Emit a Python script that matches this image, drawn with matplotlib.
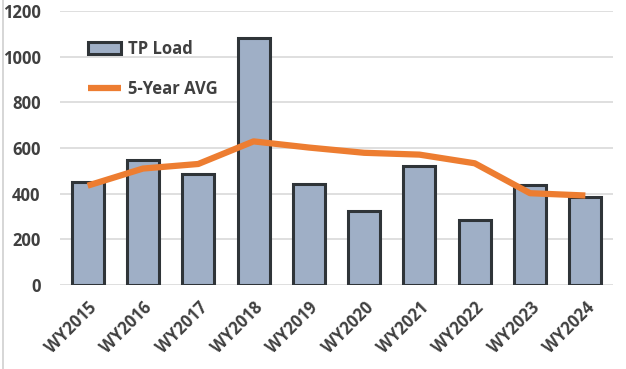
import matplotlib
matplotlib.use('Agg')
import matplotlib.pyplot as plt
from matplotlib.lines import Line2D

# data
water_years = ['WY2015', 'WY2016', 'WY2017', 'WY2018', 'WY2019',
               'WY2020', 'WY2021', 'WY2022', 'WY2023', 'WY2024']
tp_load = [449, 546, 486, 1082, 444, 323, 520, 283, 437, 385]
five_year_avg = [435, 510, 530, 629, 602, 579, 571, 533, 402, 392]
y_ticks = [0, 200, 400, 600, 800, 1000, 1200]

text_color = '#404040'
plt.rcParams['font.family'] = ['Open Sans', 'DejaVu Sans']

fig = plt.figure(figsize=(6.26, 3.69), dpi=100)
ax = fig.add_axes([60 / 626, 1 - 285 / 369, 553 / 626, 274 / 369])

positions = range(len(water_years))
bars = ax.bar(positions, tp_load, width=0.58, color='#9fafc6', edgecolor='#2f3438',
              linewidth=2.2, label='TP Load', zorder=2)
line, = ax.plot(positions, five_year_avg, color='#ed7d31', linewidth=4.5,
                solid_capstyle='butt', label='5-Year AVG', zorder=3)

ax.set_xlim(-0.5, len(water_years) - 0.5)
ax.set_ylim(0, 1200)
ax.set_yticks(y_ticks)
ax.set_yticklabels([str(v) for v in y_ticks], fontsize=12,
                   fontweight='bold', color=text_color)
ax.set_xticks(list(positions))
ax.set_xticklabels(water_years, rotation=45, ha='right', rotation_mode='anchor',
                   fontsize=12, fontweight='bold', color=text_color)
ax.tick_params(axis='both', length=0)
ax.tick_params(axis='y', pad=14)
ax.tick_params(axis='x', pad=10)
ax.grid(axis='y', color='#d9d9d9', linewidth=1.2, zorder=0)
ax.set_axisbelow(True)
for spine in ax.spines.values():
    spine.set_visible(False)

legend = ax.legend(handles=[bars, line], loc='upper left',
                   bbox_to_anchor=(0.035, 0.925), frameon=False,
                   fontsize=12, labelspacing=1.3, handlelength=2.0,
                   handletextpad=0.4, borderpad=0)
for text in legend.get_texts():
    text.set_color(text_color)
    text.set_fontweight('bold')

# thin frame line at the left edge of the image
fig.add_artist(Line2D([0.004, 0.004], [0, 1], transform=fig.transFigure,
                      color='#d0d0d0', linewidth=1.2))

fig.savefig('out.png', dpi=100)
